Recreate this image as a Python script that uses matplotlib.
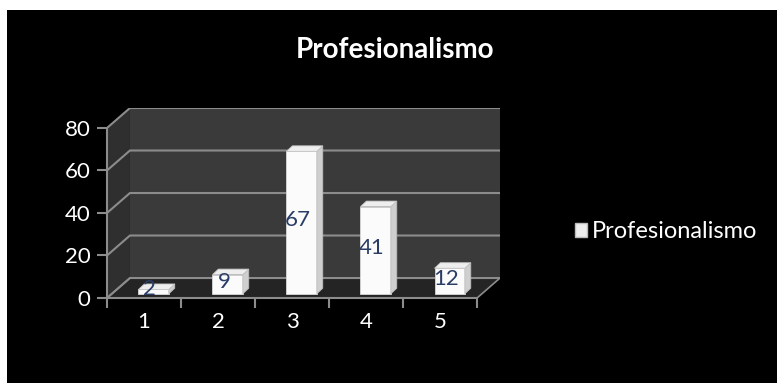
import matplotlib.pyplot as plt
from matplotlib.patches import Polygon, Rectangle

categories = ['1', '2', '3', '4', '5']
values = [2, 9, 67, 41, 12]
y_ticks = [0, 20, 40, 60, 80]
series_name = 'Profesionalismo'

# pseudo 3d geometry (data units)
DX, DY = 0.31, 9.4        # depth of the walls
BX, BY = 0.13, 2.0        # where the bar front sits inside the floor
SX, SY = 0.08, 2.6        # depth of each bar
W = 0.41

fig = plt.figure(figsize=(7.77, 3.83), dpi=100, facecolor='white')
fig.patches.append(Rectangle((7 / 777, 0), 1, 1 - 10 / 383, transform=fig.transFigure,
                             facecolor='black', edgecolor='none', zorder=-10))

ax = fig.add_axes([107 / 777, 85 / 383, 393 / 777, 190 / 383])
ax.set_facecolor('none')
n = len(categories)
x = list(range(1, n + 1))
ax.set_xlim(0.5, n + 0.5 + DX)
ax.set_ylim(0, y_ticks[-1] + DY)

grid = '#8c8c8c'
left, right, top = 0.5, n + 0.5, y_ticks[-1]
# walls and floor
ax.add_patch(Polygon([(left + DX, DY), (right + DX, DY), (right + DX, top + DY), (left + DX, top + DY)],
                     facecolor='#3a3a3a', edgecolor='none', zorder=0))
ax.add_patch(Polygon([(left, 0), (left + DX, DY), (left + DX, top + DY), (left, top)],
                     facecolor='#2f2f2f', edgecolor='none', zorder=0))
ax.add_patch(Polygon([(left, 0), (right, 0), (right + DX, DY), (left + DX, DY)],
                     facecolor='#242424', edgecolor=grid, lw=1.2, zorder=1))
for v in y_ticks:
    ax.plot([left, left + DX, right + DX], [v, v + DY, v + DY], color=grid, lw=1.5, zorder=1,
            solid_capstyle='butt')

# bars: front faces through ax.bar, sides and tops added from the same values
xs = [c + BX for c in x]
bars = ax.bar(xs, values, width=W, bottom=BY, color='#fbfbfb', edgecolor='#d9d9d9', lw=0.6, zorder=3)
for b, v in zip(bars, values):
    x0, x1 = b.get_x(), b.get_x() + b.get_width()
    y0, y1 = BY, BY + v
    ax.add_patch(Polygon([(x1, y0), (x1 + SX, y0 + SY), (x1 + SX, y1 + SY), (x1, y1)],
                         facecolor='#cfcfcf', edgecolor='#bdbdbd', lw=0.6, zorder=3))
    ax.add_patch(Polygon([(x0, y1), (x1, y1), (x1 + SX, y1 + SY), (x0 + SX, y1 + SY)],
                         facecolor='#eeeeee', edgecolor='#c4c4c4', lw=0.6, zorder=3))
    ax.text(b.get_x() + b.get_width() / 2 - 0.05, BY + v / 2 + 1, str(v), ha='center', va='center',
            fontsize=16, color='#2a3d66', family='Lato', zorder=4)

for s in ['top', 'right']:
    ax.spines[s].set_visible(False)
ax.spines['left'].set_bounds(0, top)
ax.spines['bottom'].set_bounds(left, right)
for s in ['left', 'bottom']:
    ax.spines[s].set_color(grid)
    ax.spines[s].set_linewidth(1.5)

ax.set_yticks(y_ticks)
ax.set_yticklabels([str(v) for v in y_ticks])
ax.set_xticks([left + i for i in range(n + 1)])
ax.set_xticklabels([])
ax.set_xticks(x, minor=True)
ax.set_xticklabels(categories, minor=True)
ax.tick_params(axis='x', which='major', length=7, width=1.5, color=grid, direction='out')
ax.tick_params(axis='x', which='minor', length=0, pad=10, labelsize=16, labelcolor='white')
ax.tick_params(axis='y', length=7, width=1.5, color=grid, direction='out', pad=5,
               labelsize=16, labelcolor='white')
for t in ax.get_xticklabels(minor=True) + ax.get_yticklabels():
    t.set_family('Lato')

fig.text(395 / 777, 1 - 50 / 383, series_name, ha='center', va='center', color='white',
         fontsize=20, fontweight='bold', family='Lato')

handle = Rectangle((0, 0), 1, 1, facecolor='#eeeeee', edgecolor='#bbbbbb')
fig.legend([handle], [series_name], loc='center left', bbox_to_anchor=(575 / 777, 1 - 232 / 383),
           frameon=False, borderaxespad=0, borderpad=0, handlelength=0.5, handleheight=0.5,
           handletextpad=0.2, prop={'family': 'Lato', 'size': 17}, labelcolor='white')

fig.savefig('out.png', dpi=100, facecolor=fig.get_facecolor())
